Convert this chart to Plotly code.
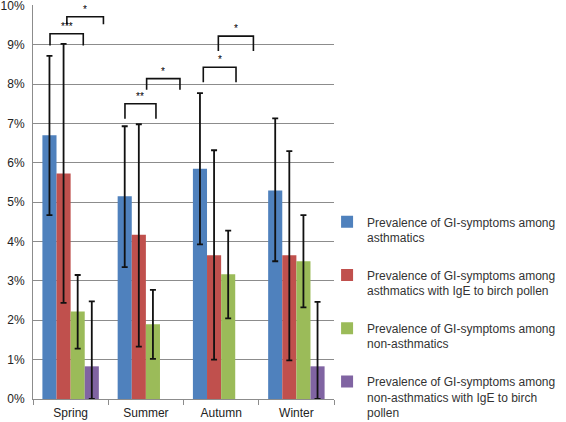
import plotly.graph_objects as go

seasons = ["Spring", "Summer", "Autumn", "Winter"]

series_names = [
    "Prevalence of GI-symptoms among<br>asthmatics",
    "Prevalence of GI-symptoms among<br>asthmatics with IgE to birch pollen",
    "Prevalence of GI-symptoms among<br>non-asthmatics",
    "Prevalence of GI-symptoms among<br>non-asthmatics with IgE to birch<br>pollen",
]
colors = ["#4F81BD", "#C0504D", "#9BBB59", "#8064A2"]

# prevalence (%)
asthma = [6.70, 5.15, 5.85, 5.30]
asthma_ige = [5.73, 4.17, 3.65, 3.65]
nonasthma = [2.22, 1.90, 3.17, 3.50]
nonasthma_ige = [0.83, None, None, 0.83]

# 95% CI upper / lower (%)
asthma_hi = [8.72, 6.93, 7.77, 7.13]
asthma_lo = [4.67, 3.35, 3.93, 3.50]
asthma_ige_hi = [9.02, 6.98, 6.32, 6.30]
asthma_ige_lo = [2.44, 1.33, 1.00, 0.98]
nonasthma_hi = [3.15, 2.77, 4.28, 4.67]
nonasthma_lo = [1.28, 1.02, 2.05, 2.33]
nonasthma_ige_hi = [2.48, None, None, 2.47]
nonasthma_ige_lo = [0.0, None, None, 0.0]

values = [asthma, asthma_ige, nonasthma, nonasthma_ige]
his = [asthma_hi, asthma_ige_hi, nonasthma_hi, nonasthma_ige_hi]
los = [asthma_lo, asthma_ige_lo, nonasthma_lo, nonasthma_ige_lo]

# significance brackets: (x start, x end, top %, leg bottom %, label)  x in category units
brackets = [
    (-0.274, 0.168, 9.28, 8.98, "***"),
    (-0.050, 0.436, 9.71, 9.52, "*"),
    (0.722, 1.134, 7.50, 7.12, "**"),
    (1.010, 1.453, 8.14, 7.86, "*"),
    (1.763, 2.198, 8.43, 8.05, "*"),
    (1.963, 2.429, 9.22, 8.84, "*"),
]

y_ticks = list(range(0, 11))

fig = go.Figure()
for name, col, v, hi, lo in zip(series_names, colors, values, his, los):
    up = [None if (a is None or b is None) else b - a for a, b in zip(v, hi)]
    dn = [None if (a is None or b is None) else a - b for a, b in zip(v, lo)]
    fig.add_trace(go.Bar(
        x=seasons, y=v, name=name, legendgroup=name,
        marker=dict(color=col, line=dict(width=0)),
        error_y=dict(type="data", symmetric=False, array=up, arrayminus=dn,
                     color="#111111", thickness=1.8, width=3),
    ))

for x0, x1, ytop, ybot, lab in brackets:
    fig.add_shape(type="path",
                  path=f"M {x0},{ybot} L {x0},{ytop} L {x1},{ytop} L {x1},{ybot}",
                  xref="x", yref="y", line=dict(color="#111111", width=1.6))
    fig.add_annotation(x=(x0 + x1) / 2, y=ytop, text=lab, showarrow=False,
                       yanchor="bottom", yshift=0, xref="x", yref="y",
                       font=dict(size=10, color="#000000"))

fig.update_layout(
    width=566, height=422,
    margin=dict(l=33, r=232, t=5, b=23, autoexpand=False),
    paper_bgcolor="white", plot_bgcolor="white",
    barmode="group", bargap=0.25, bargroupgap=0,
    font=dict(family="Liberation Sans, Arial, sans-serif", size=12, color="#222222"),
    legend=dict(x=0.977, xanchor="left", y=0.486, yanchor="top", maxheight=1,
                traceorder="grouped", tracegroupgap=19, valign="top",
                font=dict(size=12, color="#333333"), bgcolor="rgba(0,0,0,0)"),
    xaxis=dict(showgrid=False, showline=True, linecolor="#8c8c8c", linewidth=1,
               ticks="outside", tickson="boundaries", ticklen=5, tickcolor="#8c8c8c",
               ticklabelstandoff=3, range=[-0.5, 3.5]),
    yaxis=dict(range=[0, 10.01], tickvals=y_ticks, ticklabeloverflow="allow",
               ticktext=[f"{t}%" for t in y_ticks], showgrid=True,
               gridcolor="#8c8c8c", gridwidth=1, showline=True, linecolor="#8c8c8c",
               zeroline=False, ticks="", ticklen=0, ticklabelstandoff=5),
)

fig.write_html("out.html", config={"displayModeBar": False},
               post_script="document.body.style.margin='0px';document.body.style.overflow='hidden';")
